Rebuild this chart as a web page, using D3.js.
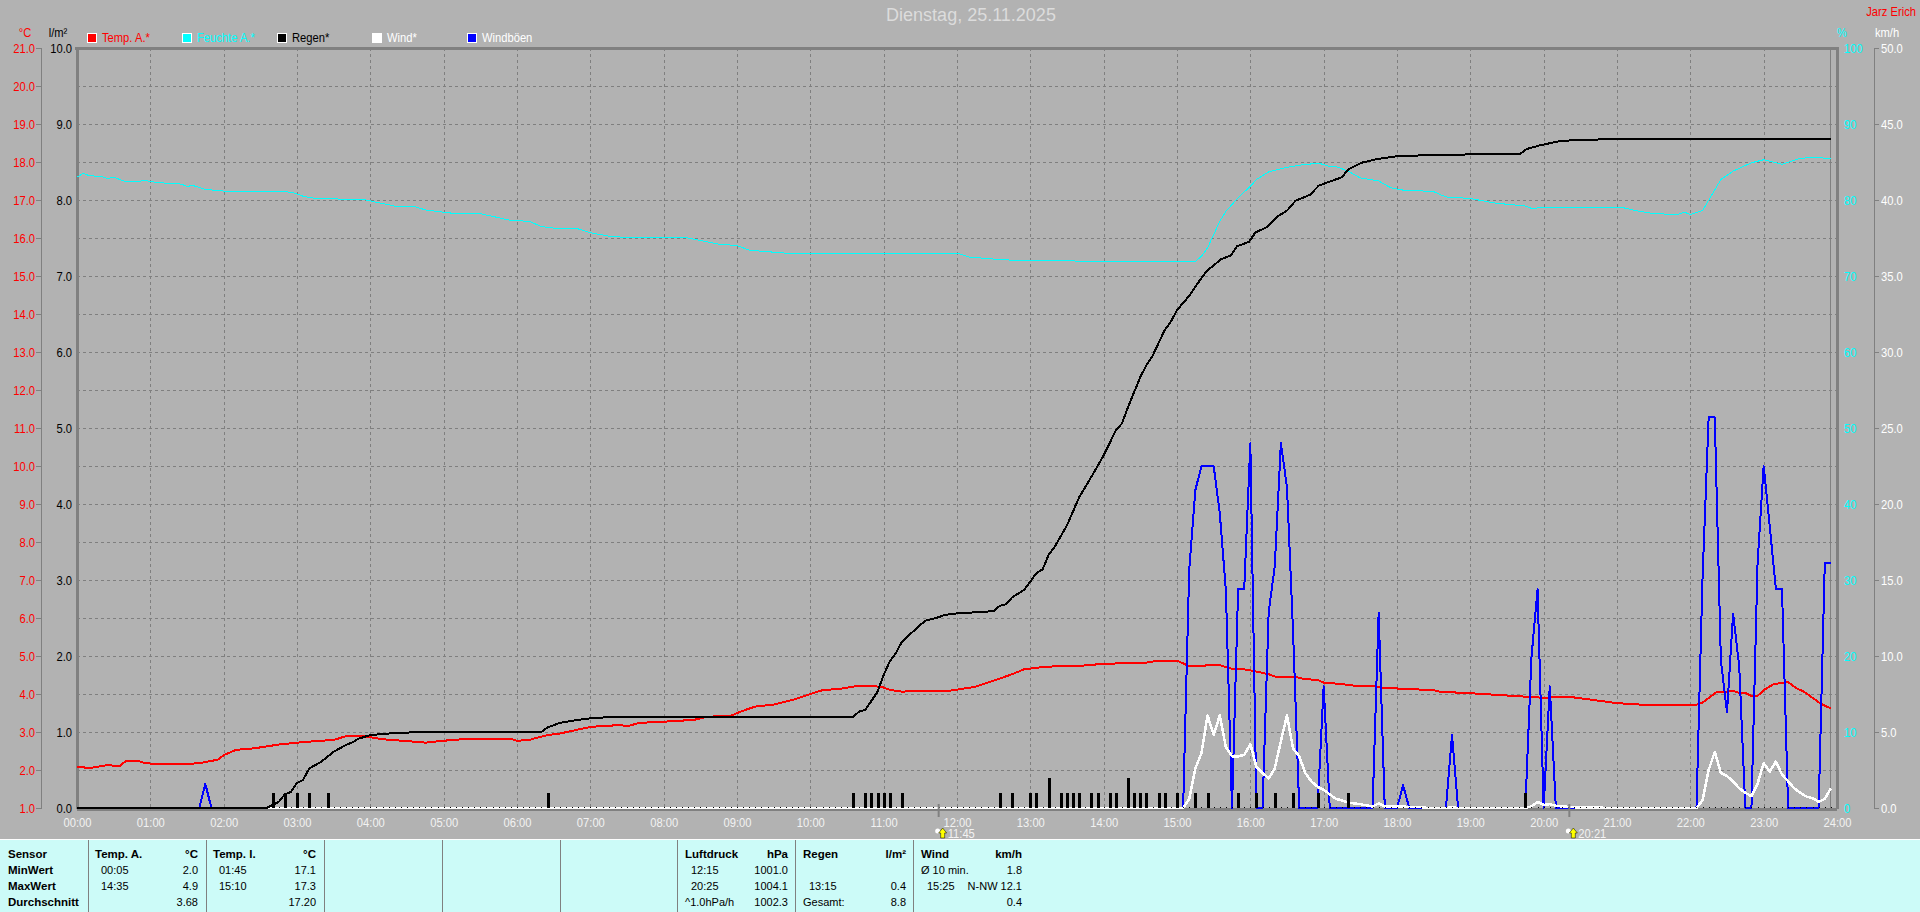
<!DOCTYPE html>
<html>
<head>
<meta charset="utf-8">
<title>Dienstag, 25.11.2025</title>
<script src="https://cdn.jsdelivr.net/npm/d3@7"></script>
<style>
  html, body { margin: 0; padding: 0; background: #b2b2b2; overflow: hidden; }
  text { font-family: "Liberation Sans", Arial, sans-serif; font-size: 13px; }
  .panel text { font-size: 11px; fill: #000; }
  .panel text.b { font-weight: bold; font-size: 11.5px; }
  .grid line { stroke: #7f7f7f; stroke-dasharray: 3 3; shape-rendering: crispEdges; }
  .grid path, .noline path { display: none; }
  .series { fill: none; shape-rendering: crispEdges; stroke-linejoin: round; }
</style>
</head>
<body>
<div id="chart"></div>
<script>
const hourTicks = d3.range(0, 25);
const tempTicks = d3.range(1, 22);
const rainTicks = d3.range(0, 11);
const humTicks = d3.range(0, 101, 10);
const windTicks = d3.range(0, 51, 5);

const legendItems = [
  ['Temp. A.*', '#ff0000', '#ff0000'],
  ['Feuchte A.*', '#00ffff', '#00ffff'],
  ['Regen*', '#000000', '#000000'],
  ['Wind*', '#ffffff', '#ffffff'],
  ['Windböen', '#0000ff', '#ffffff']
];

const tempA = [['00:00',2.09],['00:10',2.05],['00:25',2.13],['00:35',2.1],['00:40',2.24],['00:50',2.24],['00:55',2.19],['01:05',2.15],['01:25',2.15],['01:40',2.18],['01:55',2.27],['02:00',2.39],['02:10',2.53],['02:25',2.57],['02:45',2.67],['03:00',2.72],['03:15',2.76],['03:30',2.79],['03:40',2.89],['03:55',2.89],['04:10',2.81],['04:30',2.76],['04:45',2.72],['05:00',2.77],['05:15',2.81],['05:35',2.82],['05:55',2.82],['06:00',2.77],['06:10',2.79],['06:15',2.84],['06:25',2.92],['06:35',2.96],['06:45',3.03],['06:55',3.1],['07:00',3.13],['07:10',3.16],['07:25',3.18],['07:30',3.15],['07:40',3.24],['08:00',3.27],['08:25',3.32],['08:35',3.4],['08:55',3.43],['09:05',3.56],['09:15',3.67],['09:30',3.72],['09:45',3.84],['10:00',4.0],['10:10',4.1],['10:25',4.14],['10:40',4.22],['10:50',4.22],['11:00',4.17],['11:05',4.11],['11:15',4.06],['11:30',4.09],['11:55',4.09],['12:05',4.14],['12:15',4.19],['12:30',4.35],['12:45',4.52],['12:55',4.65],['13:13',4.72],['13:40',4.74],['14:02',4.8],['14:32',4.81],['14:45',4.88],['15:00',4.88],['15:10',4.73],['15:20',4.73],['15:25',4.76],['15:35',4.76],['15:45',4.66],['15:55',4.65],['16:05',4.59],['16:15',4.52],['16:20',4.46],['16:35',4.46],['16:45',4.39],['16:55',4.37],['17:00',4.3],['17:15',4.26],['17:25',4.22],['17:40',4.21],['17:50',4.16],['18:10',4.13],['18:30',4.1],['18:35',4.06],['19:00',4.02],['19:30',3.96],['20:00',3.9],['20:20',3.93],['21:00',3.76],['21:25',3.71],['22:05',3.72],['22:10',3.77],['22:18',3.97],['22:21',4.04],['22:35',4.08],['22:40',4.03],['22:45',4.03],['22:50',3.95],['22:55',3.95],['23:00',4.1],['23:08',4.26],['23:20',4.31],['23:27',4.15],['23:33',4.06],['23:47',3.74],['23:55',3.62]];

const humA = [['00:00',83.0],['00:05',83.5],['00:10',83.2],['00:20',83.1],['00:25',82.8],['00:30',83.0],['00:40',82.4],['00:50',82.4],['00:55',82.6],['01:05',82.3],['01:25',82.1],['01:30',81.8],['01:35',81.9],['01:45',81.4],['02:05',81.1],['02:55',81.05],['03:05',80.5],['03:15',80.2],['03:55',80.05],['04:05',79.7],['04:20',79.2],['04:35',79.2],['04:45',78.7],['05:00',78.4],['05:10',78.2],['05:30',78.2],['05:40',77.85],['05:55',77.3],['06:10',77.2],['06:20',76.5],['06:35',76.2],['06:50',76.2],['07:00',75.7],['07:15',75.25],['07:30',75.05],['08:20',75.0],['08:35',74.5],['08:45',74.2],['09:00',74.0],['09:10',73.4],['09:25',73.2],['09:40',73.0],['12:00',73.0],['12:10',72.5],['12:25',72.3],['12:35',72.15],['13:00',72.0],['15:15',71.9],['15:20',72.6],['15:25',73.7],['15:35',77.2],['15:40',78.5],['15:50',80.3],['16:00',81.8],['16:05',82.7],['16:15',83.7],['16:30',84.3],['16:45',84.7],['16:57',84.8],['17:05',84.4],['17:10',84.4],['17:20',83.8],['17:30',82.9],['17:45',82.5],['17:55',81.6],['18:05',81.3],['18:20',81.2],['18:30',81.1],['18:40',80.4],['19:00',80.2],['19:20',79.6],['19:45',79.2],['19:50',78.9],['20:00',79.0],['21:06',78.95],['21:15',78.6],['21:30',78.2],['21:50',78.1],['21:55',78.4],['22:00',78.1],['22:10',78.6],['22:25',82.7],['22:35',83.8],['22:50',84.9],['23:00',85.3],['23:15',84.7],['23:30',85.5],['23:45',85.6],['23:55',85.4]];

const rainSum = [['00:00',0],['02:35',0],['02:40',0.04],['02:45',0.08],['02:50',0.18],['02:55',0.21],['03:00',0.33],['03:05',0.37],['03:10',0.52],['03:20',0.61],['03:30',0.74],['03:40',0.83],['03:45',0.86],['03:50',0.91],['04:00',0.96],['04:15',0.98],['04:40',1.0],['06:20',1.0],['06:25',1.06],['06:35',1.12],['06:50',1.16],['07:00',1.18],['07:20',1.2],['10:35',1.2],['10:40',1.27],['10:45',1.29],['10:55',1.53],['11:00',1.75],['11:05',1.93],['11:10',2.04],['11:15',2.19],['11:30',2.41],['11:35',2.47],['11:43',2.5],['11:50',2.54],['12:00',2.56],['12:20',2.58],['12:30',2.59],['12:35',2.66],['12:40',2.68],['12:45',2.77],['12:55',2.87],['13:05',3.09],['13:10',3.14],['13:15',3.33],['13:20',3.44],['13:30',3.72],['13:40',4.09],['13:50',4.36],['14:00',4.64],['14:10',4.97],['14:15',5.06],['14:20',5.28],['14:30',5.67],['14:35',5.83],['14:40',5.95],['14:50',6.29],['14:55',6.4],['15:00',6.55],['15:10',6.74],['15:15',6.86],['15:19',6.95],['15:24',7.06],['15:36',7.22],['15:44',7.27],['15:49',7.39],['15:59',7.45],['16:04',7.57],['16:13',7.64],['16:22',7.78],['16:30',7.86],['16:37',7.99],['16:49',8.07],['16:56',8.19],['17:15',8.3],['17:20',8.4],['17:31',8.49],['17:44',8.54],['18:02',8.58],['19:00',8.6],['19:41',8.61],['19:46',8.67],['19:57',8.72],['20:12',8.77],['20:26',8.79],['20:57',8.8],['23:55',8.8]];

const rainBars = [['02:40',0.2],['02:50',0.2],['03:00',0.2],['03:10',0.2],['03:25',0.2],['06:25',0.2],['10:35',0.2],['10:45',0.2],['10:50',0.2],['10:55',0.2],['11:00',0.2],['11:05',0.2],['11:15',0.2],['12:35',0.2],['12:45',0.2],['13:00',0.2],['13:05',0.2],['13:15',0.4],['13:25',0.2],['13:30',0.2],['13:35',0.2],['13:40',0.2],['13:50',0.2],['13:55',0.2],['14:05',0.2],['14:10',0.2],['14:20',0.4],['14:25',0.2],['14:30',0.2],['14:35',0.2],['14:45',0.2],['14:50',0.2],['15:00',0.2],['15:15',0.2],['15:25',0.2],['15:50',0.2],['16:05',0.2],['16:20',0.2],['16:35',0.2],['16:55',0.2],['17:20',0.2],['19:45',0.2]];

const gusts = [['00:00',0],['01:40',0],['01:45',1.58],['01:50',0],['15:05',0],['15:10',15.7],['15:15',20.9],['15:20',22.5],['15:30',22.5],['15:35',19.4],['15:40',14.3],['15:45',0],['15:50',14.4],['15:55',14.4],['16:00',24.0],['16:05',0],['16:10',0],['16:15',12.9],['16:20',15.9],['16:25',24.0],['16:30',21.1],['16:35',11.5],['16:40',0],['16:55',0],['17:00',8.0],['17:05',0],['17:40',0],['17:45',12.85],['17:50',0],['18:00',0],['18:05',1.5],['18:10',0],['18:40',0],['18:45',4.8],['18:50',0],['19:45',0],['19:50',9.9],['19:55',14.4],['20:00',0],['20:05',8.0],['20:10',0],['22:05',0],['22:10',15.2],['22:15',25.7],['22:20',25.7],['22:25',9.7],['22:30',6.3],['22:35',12.8],['22:40',9.3],['22:45',0],['22:50',0],['22:55',16.1],['23:00',22.5],['23:05',18.5],['23:10',14.4],['23:15',14.4],['23:20',0],['23:45',0],['23:50',16.1],['23:55',16.1]];

const wind = [['00:00',0],['15:05',0],['15:10',0.6],['15:15',2.6],['15:20',3.6],['15:25',6.1],['15:30',4.8],['15:35',6.1],['15:40',4.0],['15:45',3.4],['15:50',3.4],['15:55',3.5],['16:00',4.2],['16:05',2.7],['16:10',2.3],['16:15',1.95],['16:20',2.6],['16:25',4.4],['16:30',6.1],['16:35',3.9],['16:40',3.4],['16:45',2.3],['16:50',1.75],['16:55',1.4],['17:00',1.2],['17:05',0.9],['17:10',0.6],['17:15',0.5],['17:20',0.35],['17:30',0.25],['17:40',0.1],['17:45',0.3],['17:50',0.1],['18:00',0.1],['18:20',0.05],['18:25',0],['18:40',0],['18:45',0.05],['18:50',0],['19:45',0],['19:50',0.1],['19:55',0.4],['20:00',0.2],['20:05',0.25],['20:10',0.15],['20:15',0.1],['20:25',0.05],['21:00',0],['22:05',0],['22:10',0.5],['22:15',2.5],['22:20',3.7],['22:25',2.3],['22:30',2.1],['22:35',1.75],['22:40',1.3],['22:45',1.0],['22:50',0.78],['22:55',1.6],['23:00',2.95],['23:05',2.4],['23:10',3.05],['23:15',2.2],['23:20',1.75],['23:25',1.3],['23:30',1.0],['23:35',0.75],['23:40',0.65],['23:45',0.4],['23:50',0.6],['23:55',1.3]];

const moonEvents = ['11:45', '20:21'];
const lastSample = '23:55';

// the info table under the chart: column x, row index, anchor, bold, text
const tableDividers = [88, 206, 324, 442, 560, 677, 795, 913];
const tableCells = [
  [8,0,'start',1,'Sensor'],[8,1,'start',1,'MinWert'],[8,2,'start',1,'MaxWert'],[8,3,'start',1,'Durchschnitt'],
  [95,0,'start',1,'Temp. A.'],[198,0,'end',1,'°C'],[101,1,'start',0,'00:05'],[198,1,'end',0,'2.0'],[101,2,'start',0,'14:35'],[198,2,'end',0,'4.9'],[198,3,'end',0,'3.68'],
  [213,0,'start',1,'Temp. I.'],[316,0,'end',1,'°C'],[219,1,'start',0,'01:45'],[316,1,'end',0,'17.1'],[219,2,'start',0,'15:10'],[316,2,'end',0,'17.3'],[316,3,'end',0,'17.20'],
  [685,0,'start',1,'Luftdruck'],[788,0,'end',1,'hPa'],[691,1,'start',0,'12:15'],[788,1,'end',0,'1001.0'],[691,2,'start',0,'20:25'],[788,2,'end',0,'1004.1'],[685,3,'start',0,'^1.0hPa/h'],[788,3,'end',0,'1002.3'],
  [803,0,'start',1,'Regen'],[906,0,'end',1,'l/m²'],[809,2,'start',0,'13:15'],[906,2,'end',0,'0.4'],[803,3,'start',0,'Gesamt:'],[906,3,'end',0,'8.8'],
  [921,0,'start',1,'Wind'],[1022,0,'end',1,'km/h'],[921,1,'start',0,'Ø 10 min.'],[1022,1,'end',0,'1.8'],[927,2,'start',0,'15:25'],[1022,2,'end',0,'N-NW 12.1'],[1022,3,'end',0,'0.4']
];

const toHours = s => +s.slice(0, 2) + s.slice(3) / 60;

const width = 1920, height = 912;
const left = 77, right = 1837, top_ = 48, bottom = 808;

const svg = d3.select('#chart').append('svg').attr('width', width).attr('height', height)
  .style('display', 'block');

const x = d3.scaleLinear().domain([0, 24]).range([left, right]);
const yTemp = d3.scaleLinear().domain([1, 21]).range([bottom, top_]);
const yRain = d3.scaleLinear().domain([0, 10]).range([bottom, top_]);
const yHum = d3.scaleLinear().domain([0, 100]).range([bottom, top_]);
const yWind = d3.scaleLinear().domain([0, 50]).range([bottom, top_]);

// title and corner texts
svg.append('text').attr('x', 971).attr('y', 21).attr('text-anchor', 'middle')
  .style('font-size', '18px').attr('class', 'wide')
  .attr('fill', '#dcdcdc').text('Dienstag, 25.11.2025');
svg.append('text').attr('x', 1916).attr('y', 16).attr('text-anchor', 'end').attr('fill', '#ff0000').text('Jarz Erich');
svg.append('text').attr('x', 25).attr('y', 37).attr('text-anchor', 'middle').attr('fill', '#ff0000').text('°C');
svg.append('text').attr('x', 58).attr('y', 37).attr('text-anchor', 'middle').attr('fill', '#000').text('l/m²');
svg.append('text').attr('x', 1842).attr('y', 37).attr('text-anchor', 'middle').attr('fill', '#00ffff').text('%');
svg.append('text').attr('x', 1887).attr('y', 37).attr('text-anchor', 'middle').attr('fill', '#fff').text('km/h');

// legend
const legend = svg.append('g').selectAll('g').data(legendItems).enter().append('g')
  .attr('transform', (d, i) => `translate(${87 + i * 95},33)`);
legend.append('rect').attr('x', 0.5).attr('y', 0.5).attr('width', 9).attr('height', 9)
  .attr('fill', d => d[1]).attr('stroke', '#fff').style('shape-rendering', 'crispEdges');
legend.append('text').attr('x', 15).attr('y', 9).attr('fill', d => d[2]).text(d => d[0]);

// grid
svg.append('g').attr('class', 'grid').attr('transform', `translate(0,${top_})`)
  .call(d3.axisBottom(x).tickValues(hourTicks.slice(1, -1)).tickSize(bottom - top_).tickFormat(''));
svg.append('g').attr('class', 'grid').attr('transform', `translate(${left},0)`)
  .call(d3.axisRight(yTemp).tickValues(tempTicks.slice(1, -1)).tickSize(right - left).tickFormat(''));

// frame
const frame = svg.append('g').attr('stroke', '#808080').style('shape-rendering', 'crispEdges');
frame.append('line').attr('x1', left - 2).attr('x2', right + 2).attr('y1', top_).attr('y2', top_).attr('stroke-width', 3);
frame.append('line').attr('x1', left).attr('x2', left).attr('y1', top_).attr('y2', bottom + 1).attr('stroke-width', 3);
frame.append('line').attr('x1', right).attr('x2', right).attr('y1', top_).attr('y2', bottom + 1).attr('stroke-width', 3);
frame.append('line').attr('x1', left).attr('x2', right).attr('y1', bottom + 1).attr('y2', bottom + 1).attr('stroke-width', 3);
frame.append('line').attr('x1', x(toHours(lastSample))).attr('x2', x(toHours(lastSample))).attr('y1', top_).attr('y2', bottom);

// left and right scales
const styleAxis = (g, color) => {
  g.selectAll('text').attr('fill', color);
  g.selectAll('line').attr('stroke', '#808080').style('shape-rendering', 'crispEdges');
  g.select('path').attr('stroke', '#808080').style('shape-rendering', 'crispEdges');
};
svg.append('g').attr('transform', 'translate(41,0)')
  .call(d3.axisLeft(yTemp).tickValues(tempTicks).tickSize(5).tickSizeOuter(5).tickPadding(1).tickFormat(d3.format('.1f')))
  .call(styleAxis, '#ff0000');
svg.append('g').attr('class', 'noline').attr('transform', `translate(${left},0)`)
  .call(d3.axisLeft(yRain).tickValues(rainTicks).tickSize(0).tickPadding(5).tickFormat(d3.format('.1f')))
  .call(styleAxis, '#000000');
svg.append('g').attr('class', 'noline').attr('transform', `translate(${right},0)`)
  .call(d3.axisRight(yHum).tickValues(humTicks).tickSize(0).tickPadding(7).tickFormat(d3.format('d')))
  .call(styleAxis, '#00ffff');
svg.append('g').attr('transform', 'translate(1874,0)')
  .call(d3.axisRight(yWind).tickValues(windTicks).tickSize(5).tickSizeOuter(5).tickPadding(2).tickFormat(d3.format('.1f')))
  .call(styleAxis, '#ffffff');
svg.append('g').attr('class', 'noline').attr('transform', `translate(0,${bottom})`)
  .call(d3.axisBottom(x).tickValues(hourTicks).tickSize(0).tickPadding(10)
    .tickFormat(d => String(d).padStart(2, '0') + ':00'))
  .call(styleAxis, '#f2f2f2');
svg.selectAll('.domain').attr('fill', 'none');
svg.selectAll('g[font-family]').attr('font-family', null).attr('font-size', null);

// series
const drawLine = (data, y, color, w) => svg.append('path').datum(data)
  .attr('class', 'series').attr('stroke', color).attr('stroke-width', w)
  .attr('d', d3.line().x(d => x(toHours(d[0]))).y(d => y(d[1])));

drawLine(tempA, yTemp, '#ff0000', 2);
drawLine(humA, yHum, '#00ffff', 1);
drawLine(gusts, yWind, '#0000ff', 2);
drawLine(wind, yWind, '#ffffff', 2.5);

// rain per 5 min: one dot for every empty step, a bar otherwise
const steps = d3.range(0, 288).map(i => i / 12);
svg.append('g').selectAll('rect').data(steps).enter().append('rect')
  .attr('x', d => Math.round(x(d))).attr('y', bottom - 1).attr('width', 1).attr('height', 1).attr('fill', '#000');
svg.append('g').selectAll('rect').data(rainBars).enter().append('rect')
  .attr('x', d => Math.round(x(toHours(d[0]))) - 1)
  .attr('y', d => yRain(d[1]))
  .attr('width', 3)
  .attr('height', d => bottom - yRain(d[1]))
  .attr('fill', '#000').style('shape-rendering', 'crispEdges');

drawLine(rainSum, yRain, '#000000', 2);

// moon rise and set markers on the time axis
const moon = svg.append('g').selectAll('g').data(moonEvents).enter().append('g')
  .attr('transform', d => `translate(${x(toHours(d))},0)`);
moon.append('rect').attr('x', -1).attr('y', 804).attr('width', 2).attr('height', 13).attr('fill', '#808080');
moon.append('circle').attr('cx', -1).attr('cy', 831).attr('r', 2.5).attr('fill', '#fff');
moon.append('path').attr('d', 'M4 828 L8 833 L6 833 L6 838 L2 838 L2 833 L0 833 Z').attr('fill', '#ffff00').attr('stroke', '#000').attr('stroke-width', 0.5);
moon.append('text').attr('x', 9).attr('y', 838).attr('fill', '#f2f2f2').text(d => d);

// info table
const panel = svg.append('g').attr('class', 'panel');
panel.append('rect').attr('x', 0).attr('y', 839).attr('width', width).attr('height', height - 839)
  .attr('fill', '#ccfbf8');
panel.append('line').attr('x1', 0).attr('x2', width).attr('y1', 839.5).attr('y2', 839.5).attr('stroke', '#fff');
panel.selectAll('.div').data(tableDividers).enter().append('rect').attr('class', 'div')
  .attr('x', d => d).attr('y', 840).attr('width', 1).attr('height', height - 840).attr('fill', '#808080');
panel.selectAll('text').data(tableCells).enter().append('text')
  .attr('x', d => d[0])
  .attr('y', d => 858 + d[1] * 16)
  .attr('text-anchor', d => d[2])
  .attr('class', d => d[3] ? 'b' : null)
  .text(d => d[4]);

// the chart font is tall and narrow, squeeze everything outside the table
svg.selectAll('text').filter(function () {
  return !this.closest('.panel') && !this.classList.contains('wide');
}).each(function () {
  const w = this.getComputedTextLength();
  d3.select(this).attr('textLength', w * 0.86).attr('lengthAdjust', 'spacingAndGlyphs');
});
</script>
</body>
</html>
